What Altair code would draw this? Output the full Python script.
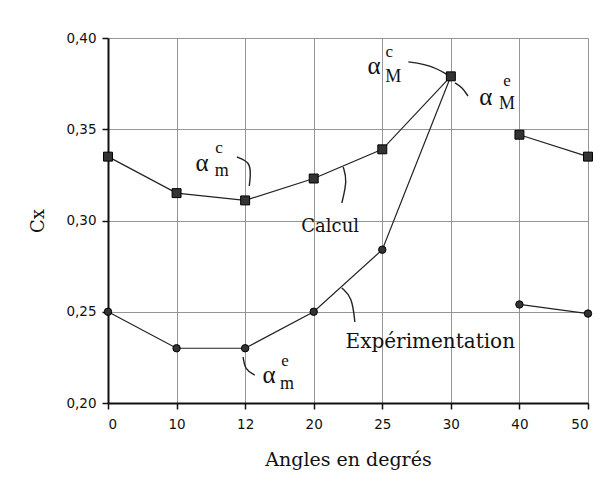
import altair as alt
import pandas as pd

# ---- data ----
angles = ["0", "10", "12", "20", "25", "30", "40", "50"]
calcul = [0.335, 0.315, 0.311, 0.323, 0.339, 0.379, 0.347, 0.335]
experim = [0.250, 0.230, 0.230, 0.250, 0.284, 0.379, 0.254, 0.249]
segment = [1, 1, 1, 1, 1, 1, 2, 2]
y_ticks = [0.20, 0.25, 0.30, 0.35, 0.40]

# annotation labels (position index along x axis, Cx value)
label_text = ["Calcul", "Expérimentation"]
label_x = [3.24, 4.70]
label_y = [0.2964, 0.2334]
label_size = [18, 20]

alpha_x = [1.37, 2.35, 3.88, 5.51]
alpha_y = [0.3315, 0.2153, 0.3847, 0.3677]
sup_text = ["c", "e", "c", "e"]
sup_x = [1.62, 2.58, 4.10, 5.82]
sup_y = [0.3395, 0.2228, 0.3925, 0.3766]
sub_text = ["m", "m", "M", "M"]
sub_x = [1.66, 2.61, 4.16, 5.82]
sub_y = [0.3272, 0.2105, 0.3785, 0.3636]

leaders = {
    "amc": ([1.88, 2.07, 2.08, 2.06], [0.3348, 0.3321, 0.3249, 0.3189]),
    "calc": ([3.43, 3.49, 3.41], [0.3293, 0.3222, 0.3096]),
    "exp": ([3.41, 3.56, 3.60], [0.2630, 0.2581, 0.2444]),
    "ame": ([1.97, 2.00, 2.14], [0.2252, 0.2181, 0.2153]),
    "aMc": ([4.38, 4.70, 4.96], [0.3869, 0.3852, 0.3797]),
    "aMe": ([5.06, 5.16, 5.25], [0.3754, 0.3732, 0.3682]),
}

# ---- tables ----
rows = []
for i, a in enumerate(angles):
    rows.append({"idx": i, "cx": calcul[i], "serie": "Calcul", "seg": f"C{segment[i]}"})
    rows.append({"idx": i, "cx": experim[i], "serie": "Exp", "seg": f"E{segment[i]}"})
df = pd.DataFrame(rows)

lead_rows = []
for k, (xs, ys) in leaders.items():
    for j, (xx, yy) in enumerate(zip(xs, ys)):
        lead_rows.append({"g": k, "o": j, "idx": xx, "cx": yy})
df_lead = pd.DataFrame(lead_rows)

df_lab = pd.DataFrame({"t": label_text, "idx": label_x, "cx": label_y, "fs": label_size})
df_alpha = pd.DataFrame({"t": ["α"] * len(alpha_x), "idx": alpha_x, "cx": alpha_y})
df_sup = pd.DataFrame({"t": sup_text, "idx": sup_x, "cx": sup_y})
df_sub = pd.DataFrame({"t": sub_text, "idx": sub_x, "cx": sub_y})

label_expr = "[" + ",".join(f"'{a}'" for a in angles) + "][datum.value]"

x_enc = alt.X(
    "idx:Q",
    scale=alt.Scale(domain=[0, len(angles) - 1], nice=False, zero=False),
    axis=alt.Axis(
        values=list(range(len(angles))),
        labelExpr=label_expr,
        title="Angles en degrés",
        titleFont="DejaVu Serif",
        titleFontSize=19,
        titleFontWeight="normal",
        titleColor="#111",
        titlePadding=20,
        labelFont="DejaVu Sans",
        labelFontSize=13.5,
        labelColor="#111",
        labelPadding=8,
        domainColor="#111",
        domainWidth=2,
        tickColor="#111",
        tickWidth=1.5,
        tickSize=6,
        gridColor="#8a8a8a",
        gridWidth=0.9,
    ),
)
y_enc = alt.Y(
    "cx:Q",
    scale=alt.Scale(domain=[0.2, 0.4], nice=False, zero=False),
    axis=alt.Axis(
        values=y_ticks,
        labelExpr="replace(format(datum.value, '.2f'), '.', ',')",
        title="Cx",
        titleFont="DejaVu Serif",
        titleFontSize=18,
        titleFontWeight="normal",
        titleColor="#111",
        titlePadding=18,
        labelFont="DejaVu Sans",
        labelFontSize=13.5,
        labelColor="#111",
        labelPadding=6,
        domainColor="#111",
        domainWidth=2,
        tickColor="#111",
        tickWidth=1.5,
        tickSize=6,
        gridColor="#8a8a8a",
        gridWidth=0.9,
    ),
)

base = alt.Chart(df)
lines = base.mark_line(color="#222", strokeWidth=1.2).encode(
    x=x_enc, y=y_enc, detail="seg:N", order="idx:Q"
)
squares = alt.Chart(df[df.serie == "Calcul"]).mark_point(
    shape="square", filled=True, size=80, color="#333", stroke="#000", strokeWidth=1, opacity=1
).encode(x="idx:Q", y="cx:Q")
circles = alt.Chart(df[(df.serie == "Exp") & (df.idx != 5)]).mark_point(
    shape="circle", filled=True, size=55, color="#333", stroke="#000", strokeWidth=1, opacity=1
).encode(x="idx:Q", y="cx:Q")

lead = alt.Chart(df_lead).mark_line(
    color="#222", strokeWidth=1.4, interpolate="basis"
).encode(x="idx:Q", y="cx:Q", detail="g:N", order="o:Q")

labs = alt.Chart(df_lab).mark_text(
    font="DejaVu Serif", color="#111", align="center", baseline="middle"
).encode(x="idx:Q", y="cx:Q", text="t:N", size=alt.Size("fs:Q", scale=None, legend=None))
alph = alt.Chart(df_alpha).mark_text(
    font="Liberation Serif", fontSize=25, color="#111", align="center", baseline="middle"
).encode(x="idx:Q", y="cx:Q", text="t:N")
sups = alt.Chart(df_sup).mark_text(
    font="Liberation Serif", fontSize=17, color="#111", align="center", baseline="middle"
).encode(x="idx:Q", y="cx:Q", text="t:N")
subs = alt.Chart(df_sub).mark_text(
    font="Liberation Serif", fontSize=18, color="#111", align="center", baseline="middle"
).encode(x="idx:Q", y="cx:Q", text="t:N")

chart = (
    alt.layer(lines, lead, squares, circles, labs, alph, sups, subs)
    .properties(
        width=480,
        height=365,
        autosize=alt.AutoSizeParams(type="none"),
        padding={"left": 100, "top": 30, "right": 14, "bottom": 70},
        background="white",
    )
    .configure_view(strokeWidth=0)
)

chart.save("out.html", embed_options={"renderer": "svg", "actions": False})
